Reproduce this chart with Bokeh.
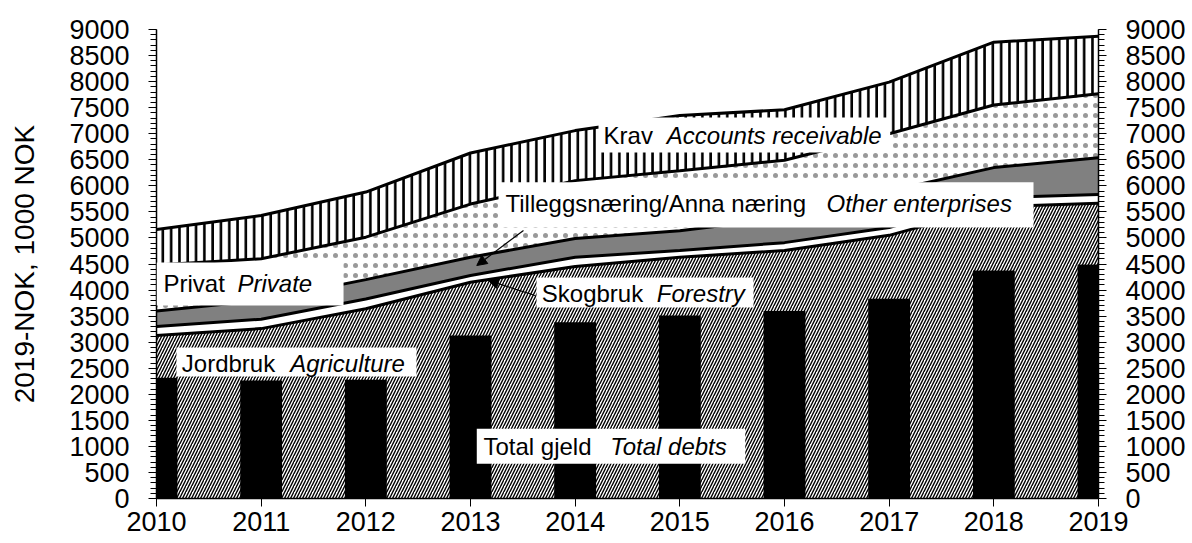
import numpy as np
from bokeh.plotting import figure
from bokeh.models import (Range1d, LinearAxis, FixedTicker, BoxAnnotation, Label,
                          Arrow, NormalHead)
from bokeh.embed import file_html
from bokeh.resources import INLINE

# ---- data (1000 NOK, 2019-NOK) ----
years = [2010, 2011, 2012, 2013, 2014, 2015, 2016, 2017, 2018, 2019]
jordbruk = [3130, 3260, 3640, 4150, 4450, 4630, 4760, 5050, 5600, 5667]
skogbruk = [170, 180, 190, 130, 180, 130, 150, 150, 170, 167]
tillegg = [300, 360, 370, 350, 360, 380, 470, 700, 580, 704]
privat = [880, 800, 815, 1020, 1110, 1150, 1110, 1100, 1200, 1228]
krav = [680, 830, 865, 980, 960, 1060, 970, 990, 1207, 1106]
total_gjeld = [2315, 2265, 2280, 3128, 3383, 3512, 3600, 3832, 4375, 4490]
y_ticks = list(range(0, 9001, 500))
y_minor = list(range(0, 9001, 100))

FONT = "Liberation Sans"

c1 = np.array(jordbruk, dtype=float)
c2 = c1 + np.array(skogbruk)
c3 = c2 + np.array(tillegg)
c4 = c3 + np.array(privat)
c5 = c4 + np.array(krav)
zero = np.zeros(len(years))

p = figure(width=1188, height=543, output_backend="svg", toolbar_location=None,
           x_range=Range1d(2010, 2019), y_range=Range1d(0, 9000),
           min_border_left=156, min_border_right=90, min_border_top=29, min_border_bottom=45)
p.grid.visible = False
p.outline_line_color = None
p.background_fill_color = "white"

# stacked areas
p.varea(x=years, y1=zero, y2=c1, fill_color="white", hatch_pattern="/",
        hatch_color="black", hatch_scale=6, hatch_weight=1.4)
p.varea(x=years, y1=c1, y2=c2, fill_color="white")
p.varea(x=years, y1=c2, y2=c3, fill_color="#808080")
p.varea(x=years, y1=c3, y2=c4, fill_color="white", hatch_pattern=".",
        hatch_color="#999999", hatch_scale=10, hatch_weight=0.7)
p.varea(x=years, y1=c4, y2=c5, fill_color="white", hatch_pattern="|",
        hatch_color="black", hatch_scale=8.3, hatch_weight=2.6)

# bars: total debts
p.vbar(x=years, top=total_gjeld, width=0.4, fill_color="black", line_color=None)

# boundary lines
for c in (c1, c2, c3, c4, c5):
    p.line(years, c, line_color="black", line_width=3)

# axes
for ax in p.yaxis:
    ax.ticker = FixedTicker(ticks=y_ticks, minor_ticks=y_minor)
right = LinearAxis(ticker=FixedTicker(ticks=y_ticks, minor_ticks=y_minor))
p.add_layout(right, "right")

p.xaxis.ticker = FixedTicker(ticks=years, minor_ticks=[])
p.yaxis[0].axis_label = "2019-NOK, 1000 NOK"

for ax in p.xaxis + p.yaxis + [right]:
    ax.axis_line_color = "black"
    ax.axis_line_width = 1.5
    ax.major_tick_line_color = "black"
    ax.minor_tick_line_color = "black"
    ax.major_tick_out = 8
    ax.major_tick_in = 0
    ax.minor_tick_out = 6
    ax.minor_tick_in = 0
    ax.major_label_text_font = FONT
    ax.major_label_text_font_size = "27px"
    ax.major_label_text_color = "black"
    ax.axis_label_text_font = FONT
    ax.axis_label_text_font_size = "28px"
    ax.axis_label_text_font_style = "normal"
    ax.axis_label_text_color = "black"

p.xaxis.major_label_standoff = 5
p.yaxis[0].major_label_standoff = 19
p.yaxis[0].axis_label_standoff = 26
right.major_label_standoff = 19

# label boxes and texts
boxes = [
    (2010.0, 2011.787, 3704, 4529),
    (2010.191, 2012.484, 2341, 2898),
    (2013.060, 2015.625, 666, 1338),
    (2013.631, 2015.704, 3665, 4241),
    (2013.268, 2018.379, 5200, 6070),
    (2014.223, 2017.010, 6640, 7311),
]
for l, r, b, t in boxes:
    p.add_layout(BoxAnnotation(left=l, right=r, bottom=b, top=t, fill_color="white",
                               fill_alpha=1.0, line_color=None, level="annotation"))

texts = [
    (2010.067, 4126, "Privat", "normal"),
    (2010.774, 4126, "Private", "italic"),
    (2010.242, 2600, "Jordbruk", "normal"),
    (2011.277, 2600, "Agriculture", "italic"),
    (2013.124, 990, "Total gjeld", "normal"),
    (2014.335, 990, "Total debts", "italic"),
    (2013.681, 3940, "Skogbruk", "normal"),
    (2014.780, 3940, "Forestry", "italic"),
    (2013.334, 5655, "Tilleggsnæring/Anna næring", "normal"),
    (2016.401, 5655, "Other enterprises", "italic"),
    (2014.271, 6960, "Krav", "normal"),
    (2014.876, 6960, "Accounts receivable", "italic"),
]
for x, y, t, st in texts:
    p.add_layout(Label(x=x, y=y, text=t, text_font=FONT, text_font_size="24px",
                       text_font_style=st, text_baseline="middle", text_align="left",
                       text_color="black"))

p.add_layout(Arrow(end=NormalHead(size=10, fill_color="black", line_color="black"),
                   x_start=2013.618, y_start=3896, x_end=2013.172, y_end=4183,
                   line_color="black", line_width=1.2))
p.add_layout(Arrow(end=NormalHead(size=10, fill_color="black", line_color="black"),
                   x_start=2013.506, y_start=5143, x_end=2013.060, y_end=4471,
                   line_color="black", line_width=1.2))

open("out.html", "w").write(file_html(p, INLINE))
